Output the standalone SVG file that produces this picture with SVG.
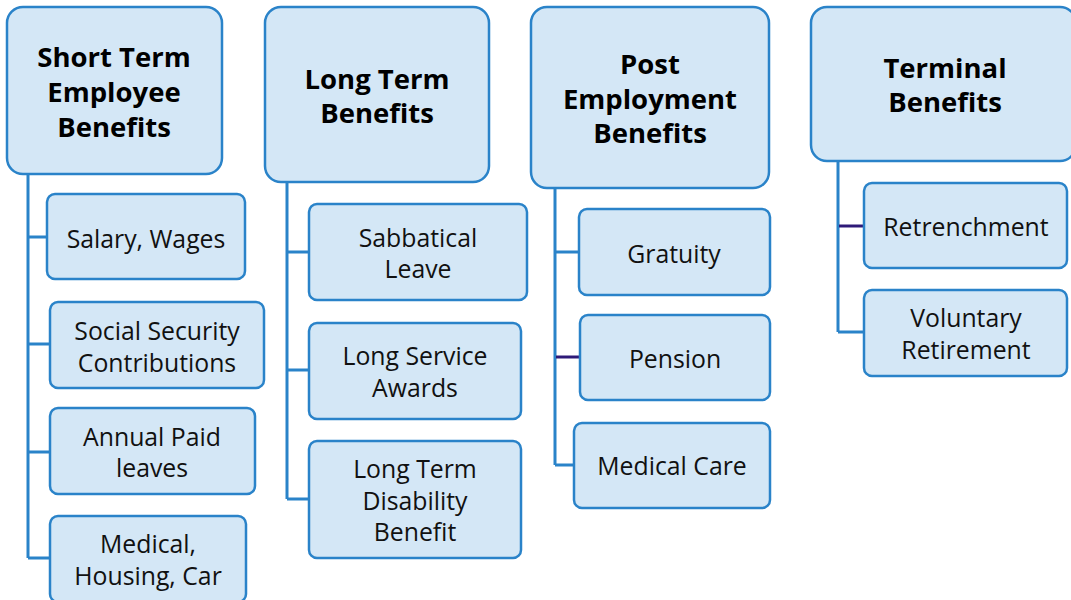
<svg xmlns="http://www.w3.org/2000/svg" width="1071" height="600" viewBox="0 0 1071 600">
<style>
.box{fill:#d4e7f6;stroke:#2a83c9;stroke-width:2.5}
.h{font-family:"Open Sans","Noto Sans","DejaVu Sans",sans-serif;font-weight:bold;font-size:27.5px;fill:#000;text-anchor:middle;dominant-baseline:central}
.t{font-family:"Open Sans","Noto Sans","DejaVu Sans",sans-serif;font-size:24.8px;fill:#111;text-anchor:middle;dominant-baseline:central}
.c{fill:none;stroke:#2a83c9;stroke-width:3}
.p{fill:none;stroke:#2e1a78;stroke-width:3}
</style>
<rect width="1071" height="600" fill="#fff"/>
<g id="connectors">
<path class="c" d="M28 174V558M28 237H47M28 344H50M28 452H50M28 558H50"/>
<path class="c" d="M287 182V499M287 252H309M287 370H309M287 499H309"/>
<path class="c" d="M555 188V465M555 252H579M555 465H574"/>
<path class="p" d="M556 357H580"/>
<path class="c" d="M838 161V332M838 332H864"/>
<path class="p" d="M839 226H864"/>
</g>
<g id="n1"><rect class="box" x="7" y="7" width="215" height="167" rx="16"/><text class="h" x="114"><tspan x="114" y="56">Short Term</tspan><tspan x="114" y="91">Employee</tspan><tspan x="114" y="126">Benefits</tspan></text></g>
<g id="n1a"><rect class="box" x="47" y="194" width="198" height="85" rx="8"/><text class="t" x="146" y="238">Salary, Wages</text></g>
<g id="n1b"><rect class="box" x="50" y="302" width="214" height="86" rx="8"/><text class="t"><tspan x="157" y="330">Social Security</tspan><tspan x="157" y="362">Contributions</tspan></text></g>
<g id="n1c"><rect class="box" x="50" y="408" width="205" height="86" rx="8"/><text class="t"><tspan x="152" y="436">Annual Paid</tspan><tspan x="152" y="467">leaves</tspan></text></g>
<g id="n1d"><rect class="box" x="50" y="516" width="196" height="86" rx="8"/><text class="t"><tspan x="148" y="543">Medical,</tspan><tspan x="148" y="575">Housing, Car</tspan></text></g>
<g id="n2"><rect class="box" x="265" y="7" width="224" height="175" rx="16"/><text class="h"><tspan x="377" y="78">Long Term</tspan><tspan x="377" y="112">Benefits</tspan></text></g>
<g id="n2a"><rect class="box" x="309" y="204" width="218" height="96" rx="8"/><text class="t"><tspan x="418" y="237">Sabbatical</tspan><tspan x="418" y="268">Leave</tspan></text></g>
<g id="n2b"><rect class="box" x="309" y="323" width="212" height="96" rx="8"/><text class="t"><tspan x="415" y="355">Long Service</tspan><tspan x="415" y="387">Awards</tspan></text></g>
<g id="n2c"><rect class="box" x="309" y="441" width="212" height="117" rx="8"/><text class="t"><tspan x="415" y="468">Long Term</tspan><tspan x="415" y="500">Disability</tspan><tspan x="415" y="531">Benefit</tspan></text></g>
<g id="n3"><rect class="box" x="531" y="7" width="238" height="181" rx="16"/><text class="h"><tspan x="650" y="63">Post</tspan><tspan x="650" y="98">Employment</tspan><tspan x="650" y="132">Benefits</tspan></text></g>
<g id="n3a"><rect class="box" x="579" y="209" width="191" height="86" rx="8"/><text class="t" x="674" y="253">Gratuity</text></g>
<g id="n3b"><rect class="box" x="580" y="315" width="190" height="85" rx="8"/><text class="t" x="675" y="358">Pension</text></g>
<g id="n3c"><rect class="box" x="574" y="423" width="196" height="85" rx="8"/><text class="t" x="672" y="465">Medical Care</text></g>
<g id="n4"><rect class="box" x="811" y="7" width="265" height="154" rx="16"/><text class="h"><tspan x="945" y="67">Terminal</tspan><tspan x="945" y="101">Benefits</tspan></text></g>
<g id="n4a"><rect class="box" x="864" y="183" width="203" height="85" rx="8"/><text class="t" x="966" y="226">Retrenchment</text></g>
<g id="n4b"><rect class="box" x="864" y="290" width="203" height="86" rx="8"/><text class="t"><tspan x="966" y="317">Voluntary</tspan><tspan x="966" y="349">Retirement</tspan></text></g>
</svg>
